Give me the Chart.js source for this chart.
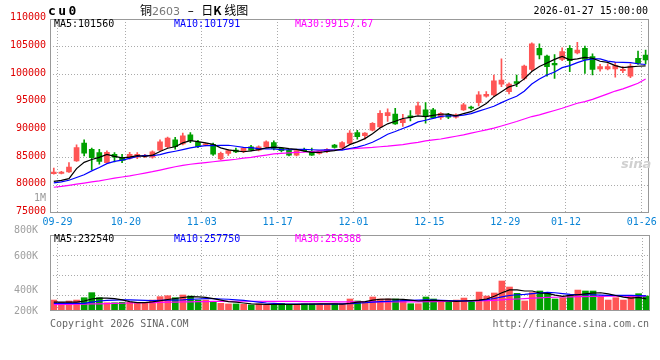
<!DOCTYPE html>
<html><head><meta charset="utf-8">
<script src="https://cdn.jsdelivr.net/npm/chart.js@4.4.1/dist/chart.umd.min.js"></script>
<style>
html,body{margin:0;padding:0;background:#fff;}
#wrap{position:relative;width:660px;height:360px;overflow:hidden;background:#fff;font-family:"DejaVu Sans Mono",monospace;}
canvas{position:absolute;left:0;}
.t{position:absolute;white-space:nowrap;font-size:10px;line-height:11px;}
</style></head>
<body><div id="wrap">
<canvas id="c1" width="660" height="226" style="top:0"></canvas>
<canvas id="c2" width="660" height="136" style="top:224px"></canvas>
<div class="t" style="left:48px;top:4px;font-size:13px;line-height:14px;font-weight:bold;letter-spacing:2.4px;">cu0</div>
<div class="t" style="left:140px;top:3px;font-size:12px;line-height:14px;font-family:'Noto Sans CJK SC',sans-serif;">铜<span style="color:#777;font-family:'DejaVu Sans',sans-serif;font-size:11px;">2603</span><span style="font-family:'DejaVu Sans',sans-serif;">&nbsp; –&nbsp; </span>日<b>K</b> 线图</div>
<div class="t" style="right:12px;top:5px;">2026-01-27 15:00:00</div>
<div class="t" style="left:54px;top:18px;color:#000;">MA5:101560</div>
<div class="t" style="left:174px;top:18px;color:#0000ff;">MA10:101791</div>
<div class="t" style="left:295px;top:18px;color:#ff00ff;">MA30:99157.67</div>
<div class="t" style="left:54px;top:233px;color:#000;">MA5:232540</div>
<div class="t" style="left:174px;top:233px;color:#0000ff;">MA10:257750</div>
<div class="t" style="left:295px;top:233px;color:#ff00ff;">MA30:256388</div>
<div class="t" style="left:50px;top:318px;color:#666;">Copyright 2026 SINA.COM</div>
<div class="t" style="right:11px;top:318px;color:#666;">http://finance.sina.com.cn</div>
<div class="t" style="left:621px;top:157px;color:#d0d0d0;font-family:'DejaVu Sans',sans-serif;font-style:italic;font-weight:bold;font-size:13px;line-height:14px;">sina</div>
</div>
<script>
const dates = ['09-29','09-30','10-09','10-10','10-13','10-14','10-15','10-16','10-17','10-20','10-21','10-22','10-23','10-24','10-27','10-28','10-29','10-30','10-31','11-03','11-04','11-05','11-06','11-07','11-10','11-11','11-12','11-13','11-14','11-17','11-18','11-19','11-20','11-21','11-24','11-25','11-26','11-27','11-28','12-01','12-02','12-03','12-04','12-05','12-08','12-09','12-10','12-11','12-12','12-15','12-16','12-17','12-18','12-19','12-22','12-23','12-24','12-25','12-26','12-29','12-30','12-31','01-05','01-06','01-07','01-08','01-09','01-12','01-13','01-14','01-15','01-16','01-19','01-20','01-21','01-22','01-23','01-26','01-27'];
const opens = [82100,82150,82400,84400,87600,86500,85900,84100,85600,84900,84900,85050,85200,85050,86350,86950,88200,87450,89100,87750,87300,87400,84750,85750,86350,86050,86950,86350,86950,87700,86650,86350,85450,86500,86050,85750,86050,87250,86850,87550,89500,88950,89950,90550,92550,92850,91300,92550,92850,93600,93600,92250,92800,92300,93600,94100,94900,96100,96300,98250,96900,98700,99300,100900,104700,103300,102000,102700,104700,103900,104700,103200,101000,101000,101000,100700,99700,102900,103500];
const highs = [83100,82500,84100,87300,88200,86700,86500,86200,85900,85600,85950,85900,85600,86200,88200,88700,88650,89400,89500,88100,87600,87600,86000,86500,86700,86800,87200,87100,88000,88000,86800,86500,86400,86700,86700,86300,86600,87400,87900,89850,89900,89500,91300,93500,93800,93900,92800,93500,95000,94900,93900,93100,93000,92900,94800,94300,96900,96900,99900,102800,98500,99900,101700,105700,105500,103500,103600,104800,105200,105800,105100,103700,101800,101900,102200,101400,101900,104200,104400];
const lows = [82000,82050,82300,84300,85300,82800,83800,84000,84200,84100,84700,84800,85000,84900,86300,86800,86500,87300,87700,86800,87100,85400,84600,85400,85900,85900,86200,86200,86800,86400,86000,85300,85300,86100,85400,85600,85900,86700,86700,87400,88300,88300,89800,90400,91500,91000,90600,91600,92700,91200,92000,91900,92000,92100,93500,93700,94300,95900,96100,97800,96500,97800,99000,100700,102800,99700,99300,102500,100500,103700,100200,99900,100600,100800,99500,100300,99400,101800,101900];
const closes = [82400,82400,83300,86800,85800,85000,84300,85950,85050,84500,85600,85600,85400,86050,87850,88500,86950,88900,88050,86950,87450,85600,85750,86250,86000,86650,86350,86950,87850,86650,86250,85450,86250,86250,85450,86200,86500,86850,87700,89400,88750,89400,91200,93000,93100,91050,91900,92200,94350,92400,92150,93000,92300,92700,94500,93900,96300,96400,98850,99000,98250,98400,101500,105500,103500,101400,101700,104100,102500,104400,102700,100900,101400,101400,101600,100900,101500,102000,102600];
const ma5 = [80700,80900,81200,83000,84140,84660,85040,85570,85220,84960,85080,85340,85230,85430,86100,86680,86950,87650,88050,87870,87660,87390,86760,86400,86210,86050,86200,86440,86760,86890,86810,86630,86490,86170,85930,85920,86130,86250,86540,87330,87840,88420,89290,90350,91090,91550,92050,92250,92520,92380,92600,92820,92840,92510,92930,93280,93940,94760,95990,96890,97760,98180,99200,100530,101430,102060,102720,103240,102640,102820,103080,102920,102380,102160,101600,101240,101360,101480,101560];
const ma10 = [80450,80600,80900,81400,81900,82600,83200,83900,84300,84550,84870,85190,85400,85325,85530,85880,86145,86440,86740,86985,87170,87170,87205,87225,87040,86855,86795,86600,86580,86550,86430,86415,86465,86465,86410,86365,86380,86370,86355,86630,86880,87275,87770,88445,89210,89695,90235,90770,91435,91735,92075,92435,92545,92515,92655,92940,93380,93800,94250,94910,95520,96060,96980,98260,99160,99910,100450,101220,101585,102125,102570,102820,102810,102400,102210,102160,102140,101930,101791];
const ma30 = [79650,79800,80000,80200,80400,80600,80800,81050,81300,81500,81700,81950,82200,82450,82750,83050,83350,83600,83800,83950,84100,84250,84400,84550,84700,84900,85050,85250,85450,85650,85750,85850,85950,86000,86100,86200,86300,86400,86480,86550,86650,86750,86830,86950,87050,87200,87350,87550,87750,88000,88200,88350,88600,88850,89100,89400,89700,90000,90300,90700,91100,91500,91950,92400,92700,93100,93500,93900,94350,94800,95100,95500,96000,96500,97000,97400,97900,98400,99157.67];
const volumes = [223000,204000,215000,223000,243000,286000,243000,200000,200000,204000,204000,200000,204000,223000,252000,260000,243000,266000,257000,223000,223000,209000,195000,190000,190000,187000,181000,190000,181000,187000,195000,181000,187000,190000,190000,187000,187000,190000,190000,232000,215000,204000,249000,232000,232000,232000,221000,192000,192000,249000,232000,209000,209000,223000,240000,209000,291000,257000,283000,385000,334000,280000,215000,286000,300000,283000,232000,243000,266000,308000,300000,300000,257000,223000,243000,223000,257000,277000,257000];
const vma5 = [205000,205000,205000,205000,215000,232000,240000,240000,235000,225000,210000,202000,202000,207000,217000,228000,236000,245000,252000,250000,245000,235000,222000,210000,205000,198000,190000,188000,187000,186000,187000,187000,187000,188000,189000,190000,190000,190000,189000,196000,205000,210000,222000,230000,232000,230000,228000,222000,215000,218000,220000,218000,215000,212000,215000,218000,222000,232000,255000,285000,310000,310000,300000,300000,283000,280000,265000,255000,262000,268000,275000,283000,285000,276000,262000,248000,240000,245000,232540];
const vma10 = [195000,195000,195000,195000,195000,205000,215000,220000,222000,225000,225000,222000,220000,218000,220000,222000,222000,224000,228000,232000,236000,235000,232000,230000,225000,220000,213000,205000,198000,194000,190000,189000,188000,188000,188000,188000,188000,189000,190000,192000,196000,200000,205000,210000,212000,215000,218000,220000,222000,224000,222000,220000,218000,217000,216000,216000,220000,226000,236000,250000,262000,268000,272000,278000,283000,288000,285000,278000,272000,270000,268000,268000,265000,262000,262000,262000,262000,260000,257750];
const vma30 = [185000,186000,187000,188000,189000,190000,191000,193000,195000,196000,198000,199000,200000,202000,203000,205000,206000,207000,208000,209000,210000,211000,212000,213000,213000,213000,213000,213000,212000,212000,212000,211000,211000,210000,210000,209000,209000,208000,207000,207000,207000,207000,207000,207000,207000,207000,207000,207000,208000,209000,210000,211000,212000,213000,214000,215000,216000,218000,220000,224000,228000,232000,236000,239000,242000,245000,247000,249000,250000,252000,253000,254000,255000,256000,256000,256000,256000,256000,256388];
const tickDates = ['09-29','10-20','11-03','11-17','12-01','12-15','12-29','01-12','01-26'];
const priceTicks = [75000,80000,85000,90000,95000,100000,105000,110000];
const strayLabel = {value: 77350, text: '1M'};
const volTickLabels = ['800K','600K','400K','200K'];
const volTickPos = [1.066, 0.717, 0.267, 0.0];
const volGrid = [260000,430000,600000];

const UP = '#ff5555', DOWN = '#00a000';
const isUp = i => closes[i] >= opens[i];
const colorOf = c => (c.dataIndex !== undefined && isUp(c.dataIndex)) ? UP : DOWN;
const N = dates.length;
Chart.defaults.font.family = '"DejaVu Sans Mono", monospace';
Chart.defaults.font.size = 10;
Chart.defaults.animation = false;

const boxPlugin = {id:'box', afterDraw(chart){
  const {ctx, chartArea:a} = chart;
  ctx.save(); ctx.strokeStyle = '#999'; ctx.lineWidth = 1;
  ctx.strokeRect(Math.round(a.left)+0.5, Math.round(a.top)+0.5, Math.round(a.right-a.left)-1, Math.round(a.bottom-a.top)-1);
  ctx.restore();
}};
const dash = [1,2];
const xTicksBuild = s => { s.ticks = tickDates.map(d => ({value: dates.indexOf(d) + 0.5})); };
const xScale = (showLabels, h) => ({
  type:'linear', min:-0.5, max:N-0.5, offset:false,
  afterBuildTicks: xTicksBuild,
  afterFit: s => { s.height = h; },
  grid:{color:'#aaa', drawTicks:false, offset:false},
  border:{display:false, dash:dash},
  ticks:{display:showLabels, autoSkip:false, maxRotation:0, padding:3, color:'#0a84d6',
    callback: v => dates[Math.round(v - 0.5)]}
});
const line = (data, color) => ({type:'line', data: data.map((v,i)=>({x:i,y:v})), borderColor:color, borderWidth:1.2, pointRadius:0, tension:0, order:0});

new Chart(document.getElementById('c1'), {
  type:'bar',
  data:{datasets:[
    line(ma5,'#000000'), line(ma10,'#0000ff'), line(ma30,'#ff00ff'),
    {data: dates.map((d,i)=>({x:i, y:[opens[i], closes[i]]})), backgroundColor: colorOf, barThickness:5, minBarLength:1, grouped:false, order:1},
    {data: dates.map((d,i)=>({x:i, y:[lows[i], highs[i]]})), backgroundColor: colorOf, barThickness:1, grouped:false, order:2}
  ]},
  options:{responsive:false, animation:false, events:[],
    layout:{padding:{top:19, right:10, left:0, bottom:0}},
    plugins:{legend:{display:false}, tooltip:{enabled:false}},
    scales:{
      x: xScale(true, 13),
      y:{type:'linear', position:'left', min:75000, max:110000, beginAtZero:false,
        afterBuildTicks: s => { s.ticks = priceTicks.map(v=>({value:v})).concat([{value:strayLabel.value}]); },
        afterFit: s => { s.width = 50; },
        grid:{drawTicks:false, color: c => (c.tick && (c.tick.value===strayLabel.value || c.tick.value===75000 || c.tick.value===110000)) ? 'rgba(0,0,0,0)' : '#aaa'},
        border:{display:false, dash:dash},
        ticks:{autoSkip:false, padding:4, labelOffset:-1.5,
          color: c => (c.tick && c.tick.value===strayLabel.value) ? '#999' : '#e00000',
          callback: v => v===strayLabel.value ? strayLabel.text : String(v)}
      }
    }
  },
  plugins:[boxPlugin]
});

new Chart(document.getElementById('c2'), {
  type:'bar',
  data:{datasets:[
    line(vma5,'#000000'), line(vma10,'#0000ff'), line(vma30,'#ff00ff'),
    {data: volumes.map((v,i)=>({x:i, y:v})), backgroundColor: colorOf, barThickness:6, grouped:false, order:1, yAxisID:'y'}
  ]},
  options:{responsive:false, animation:false, events:[],
    layout:{padding:{top:11, right:10, left:0, bottom:0}},
    plugins:{legend:{display:false}, tooltip:{enabled:false}},
    scales:{
      x: xScale(false, 49),
      y:{type:'linear', position:'left', min:130000, max:776000, beginAtZero:false,
        afterBuildTicks: s => { s.ticks = volGrid.map(v=>({value:v})); },
        afterFit: s => { s.width = 0; },
        grid:{drawTicks:false, color:'#aaa'}, border:{display:false, dash:dash},
        ticks:{display:false}
      },
      yl:{type:'linear', position:'left', min:0, max:1,
        afterBuildTicks: s => { s.ticks = volTickPos.map(v=>({value:v})); },
        afterFit: s => { s.width = 50; },
        grid:{display:false}, border:{display:false},
        ticks:{autoSkip:false, padding:4, color:'#a0a0a0',
          callback: (v, idx) => volTickLabels[idx]}
      }
    }
  },
  plugins:[boxPlugin]
});
</script>
</body></html>
